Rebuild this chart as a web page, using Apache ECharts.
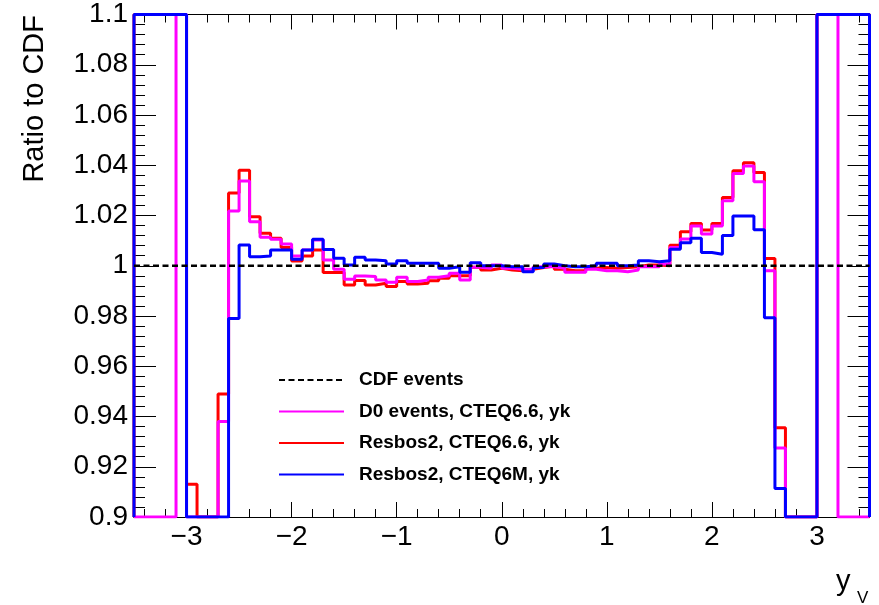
<!DOCTYPE html>
<html>
<head>
<meta charset="utf-8">
<script src="https://cdn.jsdelivr.net/npm/echarts@6/dist/echarts.min.js"></script>
<style>
  html, body { margin: 0; padding: 0; background: #fff; }
  #chart { width: 879px; height: 605px; }
</style>
</head>
<body>
<div id="chart"></div>
<script>
// histogram binning (70 bins of 0.1 from -3.5 to 3.5)
const binEdges = Array.from({ length: 71 }, (_, i) => +(-3.5 + i * 0.1).toFixed(1))

// ratio values per bin (out-of-frame bins are rough guesses)
const resbosCteq66 = [
  1.15, 1.15, 1.15, 1.15, 1.15, 0.913, 0.85, 0.85, 0.949, 1.029,
  1.038, 1.0195, 1.0129, 1.0109, 1.0073, 1.0019, 1.0039, 1.0063, 0.9973, 0.9973,
  0.9923, 0.9941, 0.9923, 0.993, 0.9917, 0.9937, 0.9927, 0.993, 0.994, 0.995,
  0.996, 0.996, 0.9994, 0.9983, 0.999, 0.9983, 0.998, 0.9986, 0.9993, 0.9999,
  0.9986, 0.998, 0.998, 0.999, 0.9993, 0.999, 0.9993, 0.9996, 1.0003, 1.0003,
  1.0, 1.0082, 1.0135, 1.0168, 1.0142, 1.0168, 1.0272, 1.0378, 1.041, 1.0371,
  1.0029, 0.9355, 0.85, 0.85, 0.85, 1.15, 1.15, 1.15, 1.15, 1.15
]
const d0Cteq66 = [
  0.85, 0.85, 0.85, 0.85, 1.15, 0.85, 0.85, 0.85, 0.938, 1.0218,
  1.0337, 1.0175, 1.0113, 1.0105, 1.0087, 1.0039, 1.0063, 1.0102, 1.0023, 0.9986,
  0.9946, 0.9959, 0.9957, 0.9943, 0.9934, 0.9954, 0.9937, 0.9943, 0.9954, 0.996,
  0.997, 0.9943, 0.9994, 0.999, 1.0003, 0.999, 0.9986, 0.9986, 0.9996, 0.9996,
  0.999, 0.9974, 0.9974, 0.9986, 0.998, 0.998, 0.9976, 0.9983, 0.9996, 0.9996,
  1.0007, 1.0073, 1.0106, 1.0158, 1.0126, 1.0158, 1.0259, 1.0367, 1.0397, 1.0334,
  0.998, 0.9275, 0.85, 0.85, 0.85, 1.15, 1.15, 0.85, 0.85, 0.85
]
const resbosCteq6m = [
  1.15, 1.15, 1.15, 1.15, 1.15, 0.85, 0.85, 0.85, 0.85, 0.979,
  1.0083, 1.0036, 1.0039, 1.0063, 1.0063, 1.0026, 1.0063, 1.0105, 1.0065, 1.003,
  1.0003, 1.0034, 1.0023, 1.002, 1.0007, 1.002, 1.001, 1.001, 1.001, 0.999,
  0.9996, 0.9974, 1.0012, 1.0, 1.0, 0.9996, 0.9996, 0.9976, 0.9993, 1.0007,
  1.0, 0.9996, 0.9996, 1.0, 1.001, 1.001, 1.0, 1.0003, 1.002, 1.0016,
  1.002, 1.0066, 1.0092, 1.0109, 1.0053, 1.0046, 1.012, 1.0198, 1.0198, 1.0143,
  0.9793, 0.9113, 0.85, 0.85, 0.85, 1.15, 1.15, 1.15, 1.15, 1.15
]
const cdfRef = 1.0

const xMajorTicks = [-3, -2, -1, 0, 1, 2, 3]
const xMinorTicks = Array.from({ length: 35 }, (_, i) => +(-3.4 + i * 0.2).toFixed(1))
  .filter(v => !Number.isInteger(v))

const yMin = 0.9
const yMax = 1.1
const FONT = '"Liberation Sans", Arial, Helvetica, sans-serif'

// like ROOT: outline starts/ends on the baseline, values clipped to the frame
const toSteps = (values) => {
  const clamp = v => Math.min(yMax, Math.max(yMin, v))
  const pts = [[binEdges[0], yMin]]
  values.forEach((v, i) => pts.push([binEdges[i], clamp(v)]))
  pts.push([binEdges[binEdges.length - 1], clamp(values[values.length - 1])])
  pts.push([binEdges[binEdges.length - 1], yMin])
  return pts
}

const histSeries = (name, values, color) => ({
  name,
  type: 'line',
  step: 'end',
  data: toSteps(values),
  symbol: 'none',
  clip: true,
  lineStyle: { color, width: 3 },
  itemStyle: { color }
})

const fmtY = v => String(parseFloat(v.toFixed(3)))
const fmtX = v => (v < 0 ? '\u2212' + Math.abs(v) : String(v))

const xBase = {
  type: 'value', min: -3.5, max: 3.5,
  axisLine: { show: true, onZero: false, lineStyle: { color: '#000', width: 1 } },
  splitLine: { show: false }
}
const yBase = {
  type: 'value', min: yMin, max: yMax, interval: 0.02,
  axisLine: { show: true, onZero: false, lineStyle: { color: '#000', width: 1 } },
  axisTick: { show: true, inside: true, length: 22, lineStyle: { color: '#000' } },
  minorTick: { show: true, splitNumber: 5, length: 11, lineStyle: { color: '#000' } },
  splitLine: { show: false }
}

const chart = echarts.init(document.getElementById('chart'))

chart.setOption({
  animation: false,
  backgroundColor: '#fff',
  grid: { left: 134, right: 9.5, top: 14.5, bottom: 88 },
  xAxis: [
    Object.assign({}, xBase, {
      position: 'bottom',
      axisTick: { show: true, inside: true, length: 15, customValues: xMajorTicks, lineStyle: { color: '#000' } },
      axisLabel: {
        customValues: xMajorTicks, formatter: fmtX, margin: 6,
        color: '#000', fontSize: 28, fontFamily: FONT
      }
    }),
    Object.assign({}, xBase, {
      position: 'bottom',
      axisTick: { show: true, inside: true, length: 8, customValues: xMinorTicks, lineStyle: { color: '#000' } },
      axisLabel: { show: false }
    }),
    Object.assign({}, xBase, {
      position: 'top',
      axisTick: { show: true, inside: true, length: 15, customValues: xMajorTicks, lineStyle: { color: '#000' } },
      axisLabel: { show: false }
    }),
    Object.assign({}, xBase, {
      position: 'top',
      axisTick: { show: true, inside: true, length: 8, customValues: xMinorTicks, lineStyle: { color: '#000' } },
      axisLabel: { show: false }
    })
  ],
  yAxis: [
    Object.assign({}, yBase, {
      position: 'left',
      axisLabel: { formatter: fmtY, margin: 6, color: '#000', fontSize: 28, fontFamily: FONT }
    }),
    Object.assign({}, yBase, {
      position: 'right',
      axisLabel: { show: false }
    })
  ],
  legend: {
    orient: 'vertical',
    left: 278,
    top: 370,
    padding: 0,
    itemWidth: 65,
    itemHeight: 14,
    itemGap: 11.5,
    selectedMode: false,
    itemStyle: { opacity: 0 },
    data: ['CDF events', 'D0 events, CTEQ6.6, yk', 'Resbos2, CTEQ6.6, yk', 'Resbos2, CTEQ6M, yk'],
    textStyle: {
      color: '#000', fontSize: 19, fontWeight: 'bold', fontFamily: FONT,
      lineHeight: 20, padding: [0, 0, 0, 10]
    }
  },
  graphic: [
    {
      type: 'text', x: 35, y: 15, rotation: Math.PI / 2,
      style: {
        text: 'Ratio to CDF', fill: '#000', font: '29px ' + FONT,
        textAlign: 'right', textVerticalAlign: 'middle'
      }
    },
    {
      type: 'text', x: 836, y: 582,
      style: { text: 'y', fill: '#000', font: '29px ' + FONT, textAlign: 'left', textVerticalAlign: 'middle' }
    },
    {
      type: 'text', x: 857, y: 598,
      style: { text: 'V', fill: '#000', font: '17px ' + FONT, textAlign: 'left', textVerticalAlign: 'middle' }
    }
  ],
  series: [
    histSeries('Resbos2, CTEQ6.6, yk', resbosCteq66, '#ff0000'),
    histSeries('D0 events, CTEQ6.6, yk', d0Cteq66, '#ff00ff'),
    histSeries('Resbos2, CTEQ6M, yk', resbosCteq6m, '#0000ff'),
    {
      name: 'CDF events',
      type: 'line',
      data: [[-3.5, cdfRef], [3.5, cdfRef]],
      symbol: 'none',
      z: 5,
      lineStyle: { color: '#000', width: 2.5, type: [6, 3.5] },
      itemStyle: { color: '#000' }
    }
  ]
})
</script>
</body>
</html>
